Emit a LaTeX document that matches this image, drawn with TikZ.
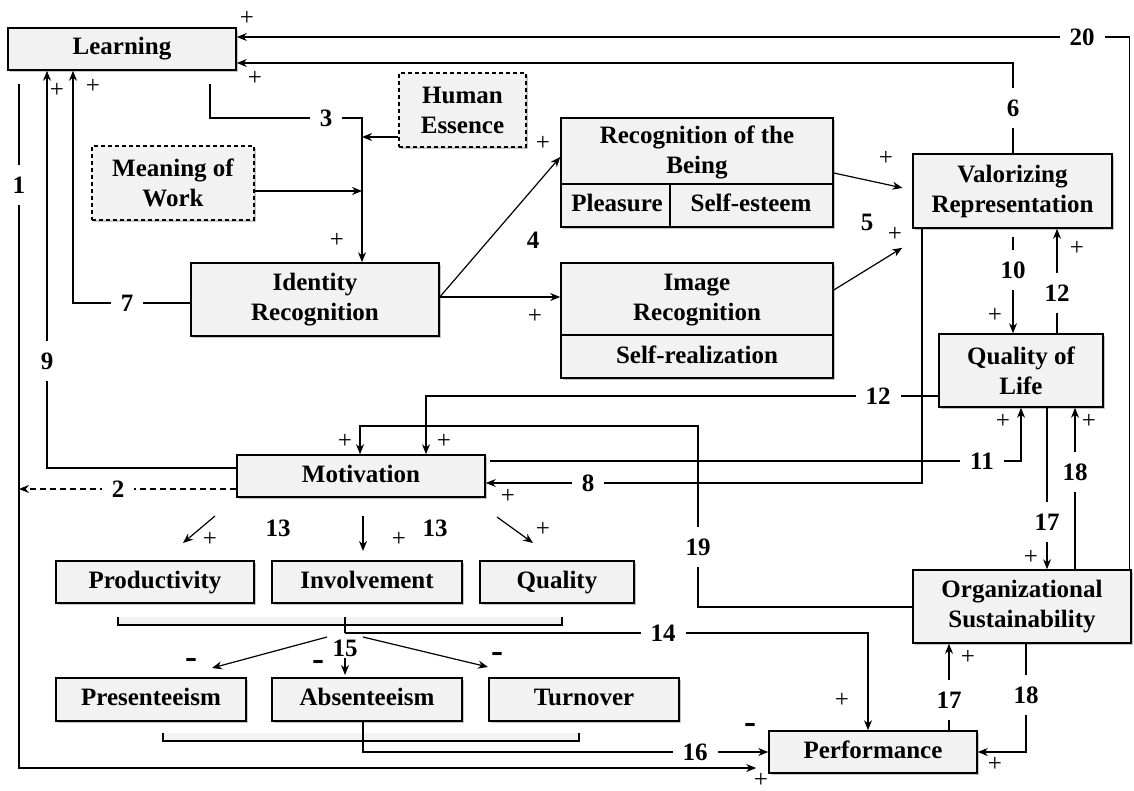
\documentclass[tikz,border=0pt]{standalone}
\usepackage{fontspec}
\setmainfont{Liberation Serif}
\usetikzlibrary{arrows.meta,shadows}
\definecolor{boxfill}{RGB}{242,242,242}
\newcommand\lblfont{\bfseries\fontsize{12.5}{15}\selectfont}
\begin{document}
\begin{tikzpicture}[x=0.5pt,y=-0.5pt,
  box/.style={draw, line width=0.8pt, fill=boxfill, inner sep=0pt, align=center, font=\lblfont,
    drop shadow={shadow xshift=1.2pt, shadow yshift=-1.2pt, fill=black!45, opacity=0.5}},
  dbox/.style={box, dash pattern=on 2pt off 1.5pt},
  one/.style={text height=8.6pt, text depth=2.6pt},
  wh/.style 2 args={minimum width=#1pt, minimum height=#2pt},
  txt/.style={align=center, font=\lblfont, inner sep=0pt},
  div/.style={line width=0.8pt},
  conn/.style={line width=0.6pt},
  arr/.style={conn, -{Stealth[length=5pt,width=4pt]}},
  hl/.style={fill=white, inner xsep=5pt, inner ysep=1pt, font=\lblfont},
  vl/.style={fill=white, inner xsep=1pt, inner ysep=6pt, font=\lblfont},
  num/.style={inner sep=0pt, font=\lblfont},
  pl/.style={inner sep=0pt, font=\fontsize{12.5}{12.5}\selectfont},
  mi/.style={inner sep=0pt, font=\bfseries\fontsize{18}{18}\selectfont}]
\useasboundingbox (0,0) rectangle (1134,791);

% ---------- boxes ----------
\node[box, one, wh={114}{21}] (learn) at (122,49) {Learning};
\node[dbox, wh={63.5}{37}] (human) at (462.5,110) {Human\\Essence};
\node[dbox, wh={81}{37}] (mean) at (173,183) {Meaning of\\Work};
\node[box, wh={136}{54.5}] (rob) at (697,172.5) {};
\node[txt] (robt) at (697,152) {Recognition of the\\Being};
\node[txt, one] (robp) at (617,206) {Pleasure};
\node[txt, one] (robs) at (751,206) {Self-esteem};
\draw[div] (rob.west |- 0,184) -- (rob.east |- 0,184);
\draw[div] (670,184) -- (rob.south -| 670,0);
\node[box, wh={99.5}{37}] (val) at (1012.5,191) {Valorizing\\Representation};
\node[box, wh={124}{36.5}] (iden) at (315,299.5) {Identity\\Recognition};
\node[box, wh={136}{57.5}] (imr) at (697,320.5) {};
\node[txt] (imrt) at (697,300) {Image\\Recognition};
\node[txt, one] (imrs) at (697,357) {Self-realization};
\draw[div] (imr.west |- 0,335) -- (imr.east |- 0,335);
\node[box, wh={82}{36.5}] (qol) at (1021,370.5) {Quality of\\Life};
\node[box, one, wh={124}{21}] (mot) at (361,476) {Motivation};
\node[box, one, wh={99}{21}] (prod) at (155,582) {Productivity};
\node[box, one, wh={95}{21}] (inv) at (367,582) {Involvement};
\node[box, one, wh={77}{21}] (qual) at (557,582) {Quality};
\node[box, one, wh={95}{21.5}] (pres) at (151,699.5) {Presenteeism};
\node[box, one, wh={95}{21.5}] (abs) at (367,699.5) {Absenteeism};
\node[box, one, wh={95}{21.5}] (turn) at (584,699.5) {Turnover};
\node[box, one, wh={104}{21}] (perf) at (873,752) {Performance};
\node[box, wh={109}{36.5}] (org) at (1022,606.5) {Organizational\\Sustainability};

% ---------- helper coordinates ----------
\coordinate (j3) at (362,118);
\coordinate (j19) at (698,426);
\coordinate (on1) at (19,489);
\coordinate (j15) at (345,633);
\coordinate (a1s) at (215,516); \coordinate (a1e) at (183,543);
\coordinate (a2s) at (363,516); \coordinate (a2e) at (363,551);
\coordinate (a3s) at (497,517); \coordinate (a3e) at (533,543);
\coordinate (b1s) at (327,637); \coordinate (b1e) at (212,668);
\coordinate (b2s) at (345,658); \coordinate (b2e) at (345,675);
\coordinate (b3s) at (363,637); \coordinate (b3e) at (488,667);

% ---------- connectors ----------
\draw[arr] ([xshift=-1pt]org.north east) |- (learn.east |- 0,37);
\draw[arr] (val.north -| 1013,0) |- (learn.east |- 0,63);
\draw[arr, shorten <=6.5pt] (learn.south -| 210,0) |- (j3) -- (iden.north -| j3);
\draw[arr] (human.west |- 0,137) -- (j3 |- 0,137);
\draw[arr] (mean.east |- 0,191) -- (j3 |- 0,191);
\draw[arr] (iden.east |- 0,297) -- (rob.west |- 0,157);
\draw[arr] (iden.east |- 0,297) -- (imr.west |- 0,297);
\draw[arr, shorten >=5pt] (rob.east |- 0,173) -- (val.west |- 0,190);
\draw[arr] (imr.east |- 0,290) -- ([xshift=-5pt,yshift=-9.5pt]val.south west);
\draw[arr, shorten <=4pt] (val.south -| 1013,0) -- (qol.north -| 1013,0);
\draw[arr] (qol.north -| 1057,0) -- (val.south -| 1057,0);
\draw[arr] (qol.west |- 0,396) -| (mot.north -| 426,0);
\draw[arr] (org.west |- 0,607) -| (j19) -| (mot.north -| 360,0);
\draw[arr] (val.south -| 922,0) |- (mot.east |- 0,483);
\draw[arr, shorten <=2pt] (mot.east |- 0,461) -| (qol.south -| 1021,0);
\draw[arr] (mot.west |- 0,468) -| (learn.south -| 47,0);
\draw[arr] (iden.west |- 0,303) -| (learn.south -| 73,0);
\draw[arr, shorten <=6.5pt, shorten >=6pt] (learn.south -| 19,0) |- (perf.west |- 0,768);
\draw[arr, dash pattern=on 3pt off 2pt] (mot.west |- on1) -- (on1);
\draw[arr] (qol.south -| 1047,0) -- (org.north -| 1047,0);
\draw[arr] (org.north -| 1075,0) -- (qol.south -| 1075,0);
\draw[arr] (perf.north -| 949,0) -- (org.south -| 949,0);
\draw[arr] (org.south -| 1026,0) |- (perf.east |- 0,752);
\draw[arr] (a1s) -- (a1e);
\draw[arr] (a2s) -- (a2e);
\draw[arr] (a3s) -- (a3e);
\filldraw[conn, fill=boxfill] (118,617) -- (118,625) -- (562,625) -- (562,617);
\filldraw[conn, fill=boxfill] (163,733) -- (163,741) -- (579,741) -- (579,733);
\draw[conn] (345,617) -- (j15);
\draw[arr] (j15) -| (perf.north -| 868,0);
\draw[arr] (b1s) -- (b1e);
\draw[arr] (b2s) -- (b2e);
\draw[arr] (b3s) -- (b3e);
\draw[arr] (abs.south -| 363,0) |- (perf.west |- 0,752);

% ---------- number labels ----------
\node[hl] (n20) at (1082,37) {20};
\node[vl] (n6) at (1013,108) {6};
\node[hl] (n3) at (326,118) {3};
\node[hl] (n7) at (127,303) {7};
\node[vl] (n1) at (19,185) {1};
\node[vl] (n9) at (47,361) {9};
\node[hl] (n2) at (118,489) {2};
\node[vl] (n10) at (1013,270) {10};
\node[vl] (n12a) at (1057,293) {12};
\node[hl] (n12b) at (878,396) {12};
\node[hl] (n11) at (982,461) {11};
\node[hl] (n8) at (588,483) {8};
\node[vl] (n19) at (698,547) {19};
\node[vl] (n17a) at (1047,522) {17};
\node[vl] (n18a) at (1075,472) {18};
\node[vl] (n17b) at (949,700) {17};
\node[vl] (n18b) at (1026,695) {18};
\node[hl] (n14) at (663,633) {14};
\node[hl] (n16) at (695,752) {16};
\node[num] (n4) at (533,240) {4};
\node[num] (n5) at (867,222) {5};
\node[num] (n13a) at (278,528) {13};
\node[num] (n13b) at (435,528) {13};
\node[num] (n15) at (345,648) {15};

% ---------- signs ----------
\node[pl] (p1) at (247,18) {+};
\node[pl] (p2) at (255,78) {+};
\node[pl] (p3) at (57,90) {+};
\node[pl] (p4) at (93,86) {+};
\node[pl] (p5) at (337,240) {+};
\node[pl] (p6) at (543,143) {+};
\node[pl] (p7) at (535,316) {+};
\node[pl] (p8) at (886,158) {+};
\node[pl] (p9) at (895,234) {+};
\node[pl] (p10) at (995,315) {+};
\node[pl] (p11) at (1077,248) {+};
\node[pl] (p12) at (345,441) {+};
\node[pl] (p13) at (444,441) {+};
\node[pl] (p14) at (508,496) {+};
\node[pl] (p15) at (1003,421) {+};
\node[pl] (p16) at (1089,421) {+};
\node[pl] (p17) at (1031,557) {+};
\node[pl] (p18) at (210,539) {+};
\node[pl] (p19) at (399,539) {+};
\node[pl] (p20) at (543,529) {+};
\node[pl] (p21) at (842,700) {+};
\node[pl] (p22) at (968,657) {+};
\node[pl] (p23) at (995,764) {+};
\node[pl] (p24) at (761,780) {+};
\node[mi] (m1) at (191,663) {-};
\node[mi] (m2) at (318,665) {-};
\node[mi] (m3) at (497,657) {-};
\node[mi] (m4) at (750,728) {-};
\end{tikzpicture}
\end{document}
